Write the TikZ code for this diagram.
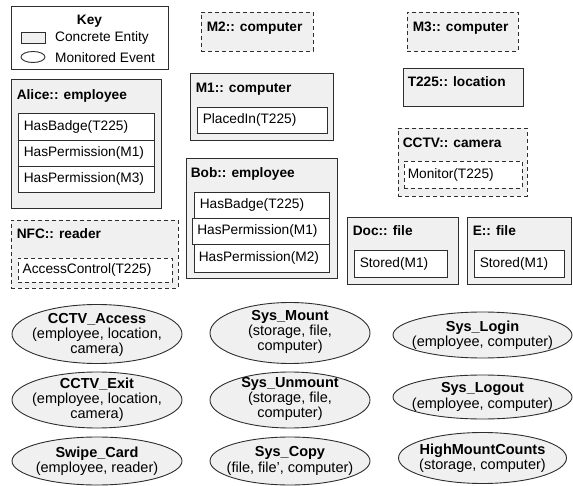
\documentclass[tikz,border=0pt]{standalone}
\usepackage{fontspec}
\setmainfont{Liberation Sans}
\usetikzlibrary{shapes.geometric,fit}
\definecolor{boxfill}{HTML}{F0F0F0}
\definecolor{linec}{HTML}{2E2E2E}
\newcommand\myfs{\fontsize{13.7}{15.5}\selectfont}
\newcommand\evfs{\fontsize{14.5}{15.2}\selectfont}
\begin{document}
\begin{tikzpicture}[x=1pt,y=-1pt,
  ent/.style={draw=linec, fill=boxfill, line width=0.9pt, inner sep=0pt},
  dent/.style={ent, dash pattern=on 4pt off 3pt},
  attr/.style={draw=linec, fill=white, line width=0.9pt, inner sep=0pt},
  dattr/.style={attr, dash pattern=on 4pt off 3pt},
  ttl/.style={anchor=base west, inner sep=0pt, font=\myfs\bfseries},
  atxt/.style={anchor=west, inner sep=0pt, font=\myfs},
  evt/.style={ellipse, draw=linec, fill=boxfill, line width=0.9pt, inner sep=0pt},
  etxt/.style={align=center, inner sep=0pt, font=\evfs},
]
\useasboundingbox (0,0) rectangle (573,486);
% Key
\node[ent, fill=white, fit={(11,6) (168,69)}] (key) {};
\node[anchor=base, inner sep=0pt, font=\myfs\bfseries] (keyT) at (89.5,25) {Key};
\node[ent, fit={(21,32) (45,43)}] (keyR) {};
\node[ellipse, draw=linec, fill=white, line width=0.9pt, inner sep=0pt, minimum width=24, minimum height=11] (keyE) at (33,57) {};
\node[atxt] (keyRt) at (55,37.5) {Concrete Entity};
\node[atxt] (keyEt) at (55,57.5) {Monitored Event};
% M2, M3
\node[dent, fit={(201,12) (313,51)}] (m2) {};
\node[ttl] (m2T) at ([shift={(6,20)}]m2.north west) {M2:: computer};
\node[dent, fit={(407,12) (518,51)}] (m3) {};
\node[ttl] (m3T) at ([shift={(6,20)}]m3.north west) {M3:: computer};
% Alice
\node[ent, fit={(11,79) (161,208)}] (alice) {};
\node[ttl] (aliceT) at ([shift={(6,21)}]alice.north west) {Alice:: employee};
\node[attr, fit={(18,113) (154,140)}] (a1) {};
\node[atxt] (a1t) at ([xshift=6]a1.west) {HasBadge(T225)};
\node[attr, fit={(18,140) (154,166)}] (a2) {};
\node[atxt] (a2t) at ([xshift=6]a2.west) {HasPermission(M1)};
\node[attr, fit={(18,166) (154,192)}] (a3) {};
\node[atxt] (a3t) at ([xshift=6]a3.west) {HasPermission(M3)};
% M1
\node[ent, fit={(190,73) (333,140)}] (m1) {};
\node[ttl] (m1T) at ([shift={(6,20)}]m1.north west) {M1:: computer};
\node[attr, fit={(197,107) (327,133)}] (m1a) {};
\node[atxt] (m1at) at ([xshift=6]m1a.west) {PlacedIn(T225)};
% T225
\node[ent, fit={(403,68) (523,106)}] (t225) {};
\node[ttl] (t225T) at ([shift={(5,19)}]t225.north west) {T225:: location};
% CCTV
\node[dent, fit={(398,128) (527,196)}] (cctv) {};
\node[ttl] (cctvT) at ([shift={(5,20)}]cctv.north west) {CCTV:: camera};
\node[dattr, fit={(404,161) (522,188)}] (cctva) {};
\node[atxt] (cctvat) at ([xshift=4]cctva.west) {Monitor(T225)};
% Bob
\node[ent, fit={(186,158) (337,278)}] (bob) {};
\node[ttl] (bobT) at ([shift={(5,20)}]bob.north west) {Bob:: employee};
\node[attr, fit={(194,192) (329,218)}] (b1) {};
\node[atxt] (b1t) at ([xshift=6]b1.west) {HasBadge(T225)};
\node[attr, fit={(192.5,218) (329,244)}] (b2) {};
\node[atxt] (b2t) at ([xshift=5]b2.west) {HasPermission(M1)};
\node[attr, fit={(194,244) (329,272)}] (b3) {};
\node[atxt] (b3t) at ([xshift=5]b3.west) {HasPermission(M2)};
% NFC
\node[dent, fit={(11,220) (178,288)}] (nfc) {};
\node[ttl] (nfcT) at ([shift={(6,19)}]nfc.north west) {NFC:: reader};
\node[dattr, fit={(18,258) (172,282)}] (nfca) {};
\node[atxt] (nfcat) at ([xshift=5]nfca.west) {AccessControl(T225)};
% Doc, E
\node[ent, fit={(347,217) (458,284)}] (doc) {};
\node[ttl] (docT) at ([shift={(6,19)}]doc.north west) {Doc:: file};
\node[attr, fit={(354,250) (447,277)}] (doca) {};
\node[atxt] (docat) at ([xshift=6]doca.west) {Stored(M1)};
\node[ent, fit={(467,217) (571,284)}] (efile) {};
\node[ttl] (efileT) at ([shift={(6,19)}]efile.north west) {E:: file};
\node[attr, fit={(474,250) (564,277)}] (efa) {};
\node[atxt] (efat) at ([xshift=6]efa.west) {Stored(M1)};
% Events
\node[evt, minimum width=170, minimum height=59] (ev1) at (97,334) {};
\node[etxt] (ev1t) at (97,335) {\textbf{CCTV\_Access}\\(employee, location,\\camera)};
\node[evt, minimum width=160, minimum height=61] (ev2) at (290,333) {};
\node[etxt] (ev2t) at (290,332) {\textbf{Sys\_Mount}\\(storage, file,\\computer)};
\node[evt, minimum width=179, minimum height=46] (ev3) at (482.5,335) {};
\node[etxt] (ev3t) at (482.5,335) {\textbf{Sys\_Login}\\(employee, computer)};
\node[evt, minimum width=170, minimum height=56] (ev4) at (97,400) {};
\node[etxt] (ev4t) at (97,400) {\textbf{CCTV\_Exit}\\(employee, location,\\camera)};
\node[evt, minimum width=160, minimum height=56] (ev5) at (290,400) {};
\node[etxt] (ev5t) at (290,399) {\textbf{Sys\_Unmount}\\(storage, file,\\computer)};
\node[evt, minimum width=179, minimum height=44] (ev6) at (482.5,397) {};
\node[etxt] (ev6t) at (482.5,397) {\textbf{Sys\_Logout}\\(employee, computer)};
\node[evt, minimum width=170, minimum height=48] (ev7) at (97,461) {};
\node[etxt] (ev7t) at (97,461) {\textbf{Swipe\_Card}\\(employee, reader)};
\node[evt, minimum width=160, minimum height=48] (ev8) at (290,461) {};
\node[etxt] (ev8t) at (290,461) {\textbf{Sys\_Copy}\\(file, file', computer)};
\node[evt, minimum width=168, minimum height=51] (ev9) at (482.5,458) {};
\node[etxt] (ev9t) at (482.5,458) {\textbf{HighMountCounts}\\(storage, computer)};
\end{tikzpicture}
\end{document}
